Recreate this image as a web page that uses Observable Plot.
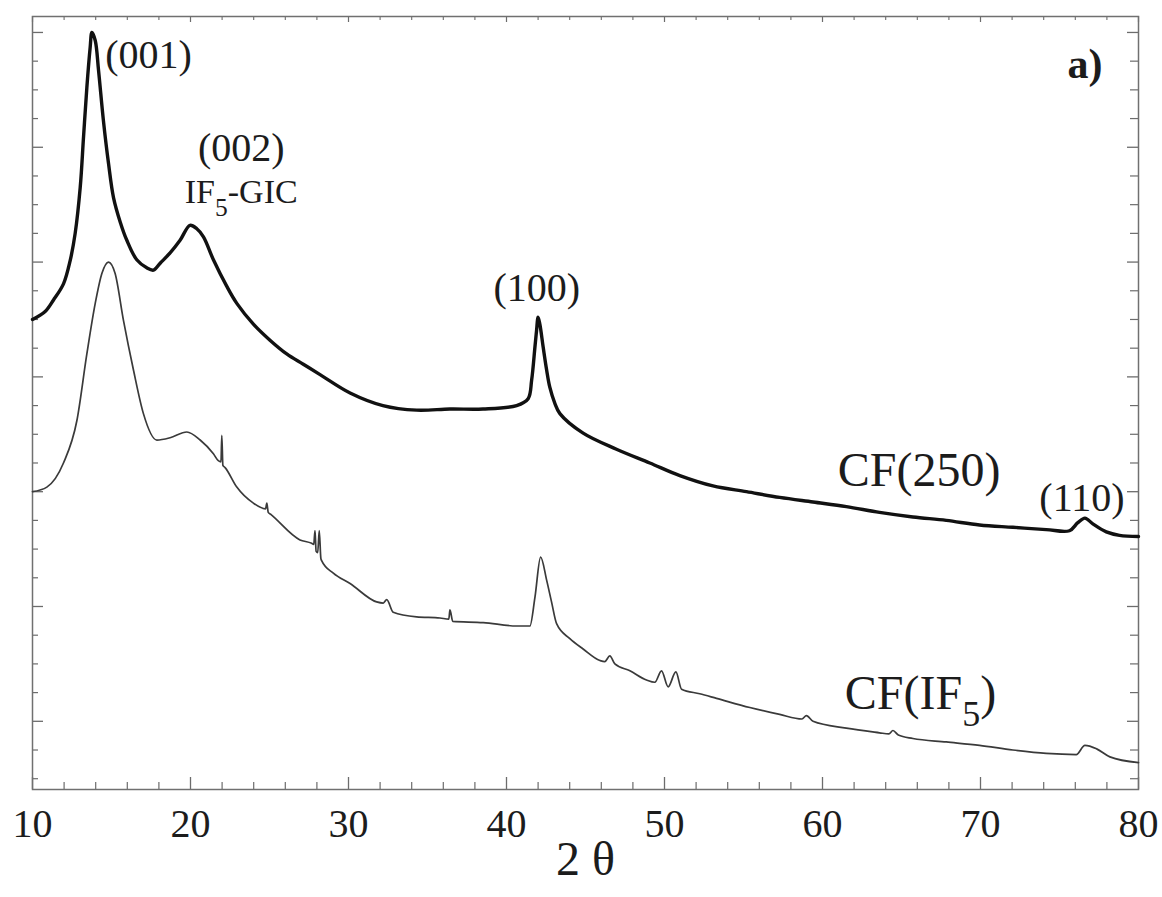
<!DOCTYPE html>
<html>
<head>
<meta charset="utf-8">
<script src="https://cdn.jsdelivr.net/npm/d3@7"></script>
<script src="https://cdn.jsdelivr.net/npm/@observablehq/plot@0.6"></script>
<style>
  html, body { margin: 0; padding: 0; background: #fff; overflow: hidden; }
  #chart { width: 1162px; height: 897px; }
  #chart text { font-family: "Liberation Serif", "Times New Roman", serif !important; font-variant: normal !important; }
</style>
</head>
<body>
<div id="chart"></div>
<script>
// ---- Data (intensity in arbitrary units) ----
const cf250_2theta = [10.0, 10.8, 11.33, 11.96, 12.38, 12.70, 13.02, 13.23, 13.44, 13.65, 13.76, 13.97, 14.18, 14.49, 14.81, 15.13, 15.55, 15.97, 16.60, 17.23, 17.66, 18.08, 18.71, 19.34, 19.97, 20.40, 20.82, 21.45, 22.29, 22.93, 23.98, 25.03, 26.09, 27.14, 28.20, 30.10, 32.18, 34.31, 36.42, 38.51, 40.64, 41.37, 41.59, 41.80, 41.90, 42.00, 42.11, 42.32, 42.54, 42.74, 43.06, 43.38, 44.85, 46.96, 49.07, 50.97, 53.07, 55.19, 57.29, 59.40, 61.51, 63.61, 65.72, 67.83, 69.94, 72.05, 74.16, 75.63, 76.16, 76.61, 77.11, 77.96, 78.80, 80.00];
const cf250_I      = [4.50, 4.57, 4.67, 4.81, 5.01, 5.25, 5.65, 6.09, 6.52, 6.87, 7.00, 6.93, 6.67, 6.23, 5.86, 5.56, 5.35, 5.19, 5.02, 4.95, 4.93, 4.99, 5.08, 5.19, 5.32, 5.29, 5.22, 5.02, 4.79, 4.64, 4.46, 4.32, 4.20, 4.11, 4.02, 3.86, 3.75, 3.71, 3.72, 3.72, 3.75, 3.81, 3.97, 4.26, 4.40, 4.52, 4.46, 4.26, 4.06, 3.91, 3.77, 3.68, 3.51, 3.37, 3.25, 3.14, 3.05, 3.00, 2.95, 2.91, 2.87, 2.82, 2.78, 2.75, 2.71, 2.69, 2.67, 2.66, 2.73, 2.77, 2.72, 2.65, 2.62, 2.61];

const cfIF5_2theta = [10.0, 10.91, 11.96, 12.81, 13.44, 13.97, 14.39, 14.81, 15.23, 15.76, 16.39, 17.02, 17.87, 18.71, 19.77, 20.61, 21.45, 21.76, 21.93, 21.98, 22.05, 22.19, 22.93, 23.98, 24.75, 24.83, 24.92, 25.10, 26.93, 27.67, 27.80, 27.88, 27.95, 28.05, 28.15, 28.25, 28.30, 29.04, 30.10, 31.78, 32.20, 32.42, 32.83, 34.31, 35.79, 36.35, 36.42, 36.60, 38.53, 40.64, 41.48, 41.80, 42.16, 42.54, 42.85, 43.17, 44.01, 44.85, 45.91, 46.22, 46.54, 46.86, 47.81, 48.86, 49.39, 49.81, 50.23, 50.72, 51.08, 52.23, 53.29, 55.40, 57.29, 58.70, 58.98, 59.40, 61.51, 63.61, 64.20, 64.46, 64.80, 65.72, 67.83, 69.94, 72.05, 74.16, 76.06, 76.61, 77.35, 78.19, 80.00];
const cfIF5_I      = [3.00, 3.04, 3.25, 3.62, 4.20, 4.64, 4.90, 5.00, 4.90, 4.49, 4.06, 3.68, 3.45, 3.47, 3.52, 3.45, 3.33, 3.27, 3.26, 3.49, 3.23, 3.21, 3.04, 2.90, 2.85, 2.90, 2.82, 2.80, 2.58, 2.55, 2.54, 2.66, 2.48, 2.47, 2.66, 2.42, 2.40, 2.29, 2.20, 2.04, 2.03, 2.06, 1.95, 1.91, 1.90, 1.89, 1.97, 1.87, 1.86, 1.83, 1.83, 2.08, 2.43, 2.23, 2.04, 1.85, 1.72, 1.63, 1.53, 1.52, 1.57, 1.50, 1.44, 1.36, 1.34, 1.44, 1.30, 1.43, 1.28, 1.24, 1.20, 1.12, 1.06, 1.02, 1.05, 1.00, 0.94, 0.90, 0.89, 0.92, 0.88, 0.85, 0.82, 0.79, 0.75, 0.72, 0.71, 0.79, 0.76, 0.69, 0.64];

// Tick values
const xMajorTicks = [10, 20, 30, 40, 50, 60, 70, 80];
const xMinorTicks = d3.range(12, 80, 2).filter(d => d % 10 !== 0);
const yMajorTicks = [1, 2, 3, 4, 5, 6, 7];
const yMinorTicks = d3.range(0.5, 7.01, 0.25).filter(d => d % 1 !== 0);

// Annotation texts, anchored in data units (2θ, intensity)
const peakLabels   = [
  {text: "(002)", x: 23.21, y: 5.99},
  {text: "(100)", x: 41.92, y: 4.77},
  {text: "(110)", x: 76.42, y: 2.945}
];
const peak001Label = [{text: "(001)", x: 14.6, y: 6.80}];
const gicLabel     = [{text: "IF5-GIC", x: 23.21, y: 5.606}];
const sampleLabels = [
  {text: "CF(250)", x: 66.11, y: 3.185},
  {text: "CF(IF5)", x: 66.2, y: 1.242}
];
const panelLabel   = [{text: "a)", x: 76.61, y: 6.72}];
const xTitle       = ["2 θ"];

// ---- Build tables ----
const cf250 = cf250_2theta.map((x, i) => ({x, y: cf250_I[i]}));
const cfIF5 = cfIF5_2theta.map((x, i) => ({x, y: cfIF5_I[i]}));

const W = 1162, H = 897;
const mL = 32, mR = 24, mT = 16, mB = 108;
const plotW = W - mL - mR, plotH = H - mT - mB;
const serif = "Liberation Serif";
const tickColor = "#6c6c6c";

const chart = Plot.plot({
  width: W,
  height: H,
  marginLeft: mL, marginRight: mR, marginTop: mT, marginBottom: mB,
  style: {fontFamily: serif, background: "#fff", color: "#1c1c1c"},
  x: {domain: [10, 80]},
  y: {domain: [0.406, 7.139], axis: null},
  marks: [
    // inward ticks: bottom
    Plot.tickX(xMajorTicks, {x: d => d, insetTop: plotH - 12, stroke: tickColor, strokeWidth: 1.3}),
    Plot.tickX(xMinorTicks, {x: d => d, insetTop: plotH - 7, stroke: tickColor, strokeWidth: 1.2}),
    // top
    Plot.tickX(xMajorTicks, {x: d => d, insetBottom: plotH - 6, stroke: tickColor, strokeWidth: 1.2}),
    Plot.tickX(xMinorTicks, {x: d => d, insetBottom: plotH - 4, stroke: tickColor, strokeWidth: 1.1}),
    // left
    Plot.tickY(yMajorTicks, {y: d => d, insetRight: plotW - 11, stroke: tickColor, strokeWidth: 1.3}),
    Plot.tickY(yMinorTicks, {y: d => d, insetRight: plotW - 6, stroke: tickColor, strokeWidth: 1.2}),
    // right
    Plot.tickY(yMajorTicks, {y: d => d, insetLeft: plotW - 11, stroke: tickColor, strokeWidth: 1.3}),
    Plot.tickY(yMinorTicks, {y: d => d, insetLeft: plotW - 8, stroke: tickColor, strokeWidth: 1.2}),
    Plot.frame({stroke: "#707070", strokeWidth: 1.5}),
    Plot.axisX({ticks: xMajorTicks, tickSize: 0, tickPadding: 19, fontSize: 40, fontFamily: serif,
                tickFormat: d => String(d), label: null}),
    // curves
    Plot.line(cfIF5, {x: "x", y: "y", stroke: "#3a3a3a", strokeWidth: 1.7, curve: "monotone-x"}),
    Plot.line(cf250, {x: "x", y: "y", stroke: "#111", strokeWidth: 3.4, curve: "catmull-rom"}),
    // annotations
    Plot.text(peak001Label, {x: "x", y: "y", text: "text", textAnchor: "start", fontSize: 40, fontFamily: serif, fill: "#1c1c1c"}),
    Plot.text(peakLabels, {x: "x", y: "y", text: "text", fontSize: 40, fontFamily: serif, fill: "#1c1c1c"}),
    Plot.text(gicLabel, {x: "x", y: "y", text: "text", fontSize: 34, fontFamily: serif, fill: "#1c1c1c"}),
    Plot.text(sampleLabels, {x: "x", y: "y", text: "text", fontSize: 48, fontFamily: serif, fill: "#1c1c1c"}),
    Plot.text(panelLabel, {x: "x", y: "y", text: "text", fontSize: 42, fontWeight: "bold", fontFamily: serif, fill: "#1c1c1c"}),
    Plot.text(xTitle, {frameAnchor: "bottom", dy: 85, fontSize: 48, fontFamily: serif, fill: "#1c1c1c"})
  ]
});

// Subscript "5" in IF5 labels
d3.select(chart).selectAll("text").each(function () {
  const t = this.textContent;
  if (t === "IF5-GIC" || t === "CF(IF5)") {
    const fs = t === "IF5-GIC" ? 34 : 48;
    const sel = d3.select(this);
    const i = t.indexOf("IF5") + 2;
    const pre = t.slice(0, i), post = t.slice(i + 1);
    sel.text(null);
    sel.append("tspan").text(pre);
    sel.append("tspan").attr("dy", (0.36 * fs) + "px").attr("font-size", (0.75 * fs) + "px").text("5");
    sel.append("tspan").attr("dy", (-0.36 * fs) + "px").text(post);
  }
});

document.getElementById("chart").append(chart);
</script>
</body>
</html>
